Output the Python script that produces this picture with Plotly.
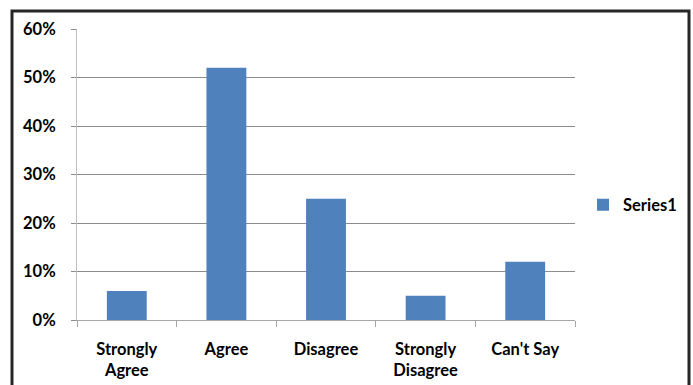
import plotly.graph_objects as go

categories = ["Strongly<br>Agree", "Agree", "Disagree", "Strongly<br>Disagree", "Can't Say"]
values = [0.06, 0.52, 0.25, 0.05, 0.12]
series_name = "Series1"
y_ticks = [0, 0.1, 0.2, 0.3, 0.4, 0.5, 0.6]
y_tick_labels = ["0%", "10%", "20%", "30%", "40%", "50%", "60%"]

W, H = 693, 385
L, R, T, B = 77, 575, 29, 320

def px_x(p):
    return (p - L) / (R - L)

def px_y(p):
    return (B - p) / (B - T)

font_family = "Lato, 'Open Sans', sans-serif"
FS = 16.5

fig = go.Figure()
fig.add_trace(go.Bar(
    x=categories, y=values, name=series_name,
    marker=dict(color="#4F81BD", line=dict(width=0)),
    showlegend=True,
))

fig.update_layout(
    width=W, height=H,
    margin=dict(l=L, r=W - R, t=T, b=H - B, autoexpand=False),
    paper_bgcolor="white", plot_bgcolor="white",
    bargap=0.6,
    font=dict(family=font_family, size=FS, color="#000000"),
    showlegend=True,
    legend=dict(x=px_x(583), y=px_y(205), xanchor="left", yanchor="middle",
                font=dict(family=font_family, size=FS, color="#000000", weight="bold"),
                itemwidth=30, bgcolor="rgba(0,0,0,0)"),
    xaxis=dict(
        type="category",
        showline=True, linecolor="#A6A6A6", linewidth=1,
        ticks="outside", tickson="boundaries", ticklen=6, tickcolor="#A6A6A6",
        showgrid=False,
        tickfont=dict(family=font_family, size=FS, color="#000000", weight="bold"),
        ticklabelstandoff=14,
    ),
    yaxis=dict(
        range=[0, 0.6], tickvals=y_ticks, ticktext=y_tick_labels,
        showline=True, linecolor="#BFBFBF", linewidth=1,
        ticks="outside", ticklen=5, tickcolor="#8C8C8C",
        showgrid=True, gridcolor="#8C8C8C", gridwidth=1,
        zeroline=False,
        tickfont=dict(family=font_family, size=FS, color="#000000", weight="bold"),
        ticklabelstandoff=12,
    ),
    shapes=[dict(
        type="rect", xref="paper", yref="paper",
        x0=px_x(12), x1=px_x(689), y0=px_y(395), y1=px_y(11),
        line=dict(color="#262626", width=3), fillcolor="rgba(0,0,0,0)", layer="above",
    )],
)

fig.write_html("out.html")
